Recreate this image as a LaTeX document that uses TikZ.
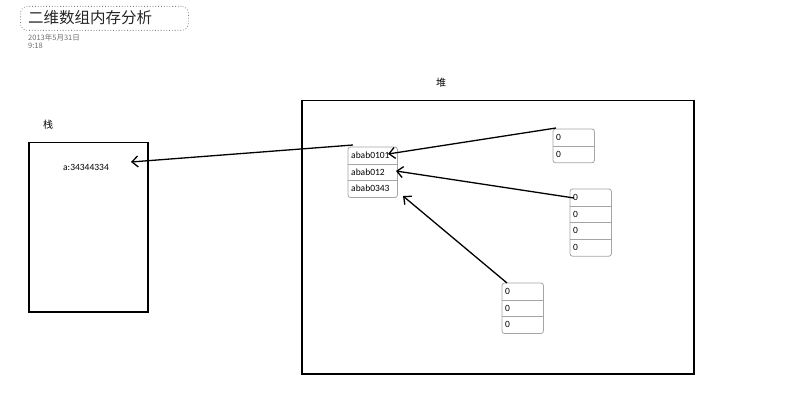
\documentclass[tikz,border=0pt]{standalone}
\usepackage{fontspec}
\setmainfont{Carlito}
\newfontfamily\cjk{Noto Sans CJK SC}
\usetikzlibrary{arrows.meta}
\definecolor{cellgray}{RGB}{165,165,165}
\definecolor{dategray}{RGB}{110,110,110}
\tikzset{
  x=1pt, y=-1pt,
  bigbox/.style={draw=black, line width=1.5pt},
  cell/.style={minimum height=16.7pt, inner sep=3pt, anchor=north west, font=\fontsize{9.5}{11}\selectfont, text height=7pt, text depth=1pt, align=left},
  maincell/.style={cell, minimum width=49pt, text width=43pt},
  zcell/.style={cell, minimum width=41pt, text width=35pt},
  outline/.style={draw=cellgray, line width=0.8pt, rounded corners=2.5pt},
  sep/.style={draw=cellgray, line width=0.8pt},
  arr/.style={draw=black, line width=1.3pt, -{Straight Barb[length=6pt, width=11pt, line width=1.3pt]}},
  lbl/.style={font=\cjk\fontsize{10}{12}\selectfont}
}
\begin{document}
\begin{tikzpicture}
\useasboundingbox (0,0) rectangle (785,401);
% title
\node[draw=gray, dotted, line width=0.8pt, rounded corners=7pt, minimum width=168pt, minimum height=24pt, anchor=north west] (titlebox) at (20,6) {};
\node[anchor=west, inner sep=0pt, font=\cjk\fontsize{15.5}{18}\selectfont, text=black!85] (title) at (28,18) {二维数组内存分析};
\node[anchor=west, inner sep=0pt, font=\cjk\fontsize{7.5}{9}\selectfont, text=dategray] (date) at (28,37.5) {2013年5月31日};
\node[anchor=west, inner sep=0pt, font=\cjk\fontsize{7.5}{9}\selectfont, text=dategray] (time) at (28,45.5) {9:18};
% stack
\node[lbl] (stacklbl) at (48,125) {栈};
\node[bigbox, anchor=north west, minimum width=119pt, minimum height=169pt] (stack) at (28,142) {};
\node[font=\fontsize{9.5}{11}\selectfont] (aval) at (86,167) {a:34344334};
\coordinate (stip) at (131,162);
% heap
\node[lbl] (heaplbl) at (441,83) {堆};
\node[bigbox, anchor=north west, minimum width=392pt, minimum height=273pt] (heap) at (301,100) {};
% main array
\node[maincell] (m1) at (348,147) {abab0101};
\node[maincell] (m2) at (348,163.7) {abab012};
\node[maincell] (m3) at (348,180.4) {abab0343};
\draw[outline] (m1.north west) rectangle (m3.south east);
\draw[sep] (m1.south west) -- (m1.south east);
\draw[sep] (m2.south west) -- (m2.south east);
% array A
\node[zcell] (a1) at (553,129) {0};
\node[zcell] (a2) at (553,145.7) {0};
\draw[outline] (a1.north west) rectangle (a2.south east);
\draw[sep] (a1.south west) -- (a1.south east);
% array B
\node[zcell] (b1) at (570,189) {0};
\node[zcell] (b2) at (570,205.7) {0};
\node[zcell] (b3) at (570,222.4) {0};
\node[zcell] (b4) at (570,239.1) {0};
\draw[outline] (b1.north west) rectangle (b4.south east);
\draw[sep] (b1.south west) -- (b1.south east);
\draw[sep] (b2.south west) -- (b2.south east);
\draw[sep] (b3.south west) -- (b3.south east);
% array C
\node[zcell] (c1) at (502,283) {0};
\node[zcell] (c2) at (502,299.7) {0};
\node[zcell] (c3) at (502,316.4) {0};
\draw[outline] (c1.north west) rectangle (c3.south east);
\draw[sep] (c1.south west) -- (c1.south east);
\draw[sep] (c2.south west) -- (c2.south east);
% arrow tips
\coordinate (t1) at (388,154);
\coordinate (t2) at (396,171);
\coordinate (t3) at (403,196);
% arrows
\draw[arr] ([shift={(5,-2)}]m1.north west) -- (stip);
\draw[arr] ([shift={(3,-1)}]a1.north west) -- (t1);
\draw[arr] ([shift={(4,9)}]b1.north west) -- (t2);
\draw[arr] ([shift={(5,0)}]c1.north west) -- (t3);
\end{tikzpicture}
\end{document}
